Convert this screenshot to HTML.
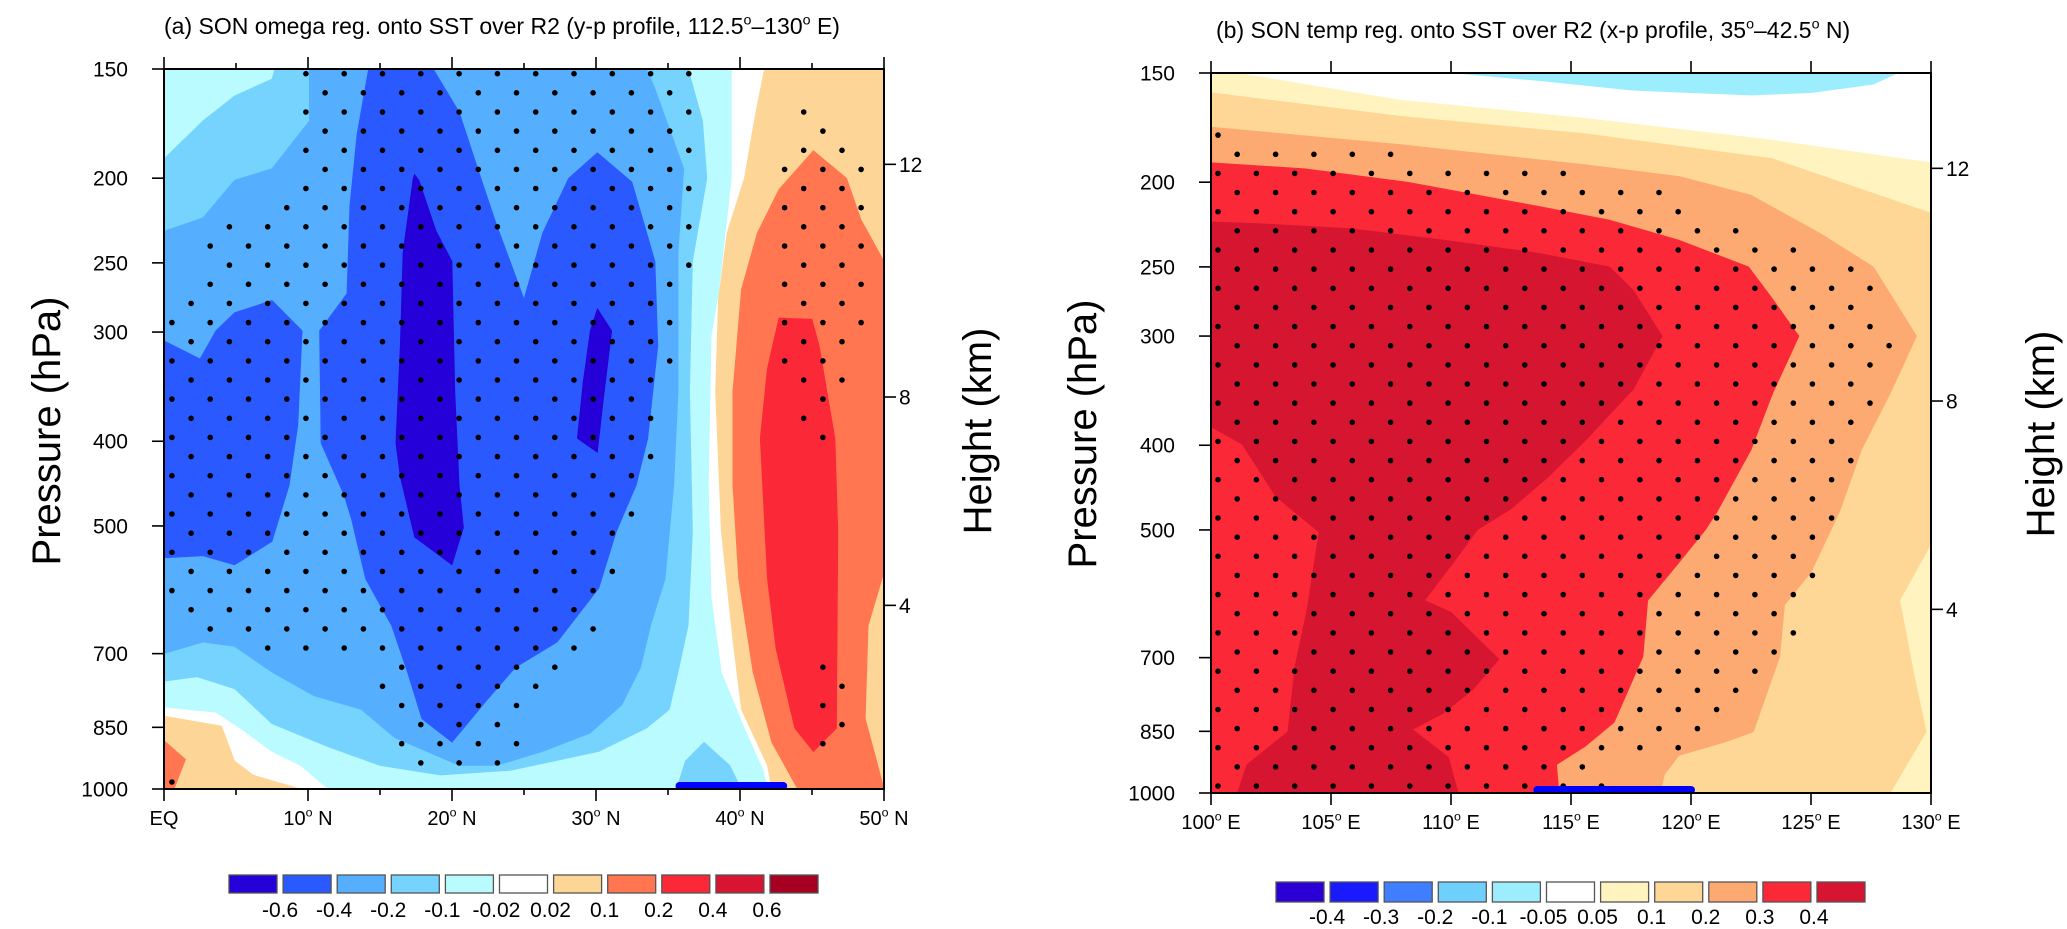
<!DOCTYPE html>
<html><head><meta charset="utf-8"><style>
html,body{margin:0;padding:0;background:#fff;}
svg{display:block;font-family:"Liberation Sans",Arial,sans-serif;}
</style></head><body>
<svg id="fig" width="2067" height="929" viewBox="0 0 2067 929" xmlns="http://www.w3.org/2000/svg">
<g id="panelA"></g>
<g id="panelB"></g>
</svg>
<script>
// ---------- Panel (a) data: omega regression contours [lat, pressure hPa] ----------
const aCyan=[[0,150],[39.4,150],[39.4,200],[38.5,271],[38.0,303],[37.8,449],[38.0,604],[38.7,735],[40.3,852],[41.6,952],[41.9,1000],[11.4,1000],[9.5,940],[7.5,906],[5.3,852],[3.6,817],[0,806]];
const aOrangeBL=[[0,825],[4.0,847],[4.9,929],[6.2,964],[9.5,1000],[0,1000]];
const aCoralBL=[[0,880],[1.5,925],[0.7,1000],[0,1000]];
const aLight=[[7.7,150],[7.5,154],[4.9,161],[2.7,172],[0,190],[0,753],[2.3,744],[4.9,768],[7.5,842],[11.4,895],[15.0,940],[19.2,964],[24.1,952],[30.2,906],[33.5,852],[35.1,811],[35.7,735],[36.4,650],[36.7,508],[36.5,351],[36.7,249],[37.7,200],[37.4,172],[36.4,150]];
const aLightPatch=[[35.6,1000],[36.2,929],[37.5,884],[39.3,940],[40.1,1000]];
const aMid=[[10.1,150],[10.1,172],[7.5,195],[4.9,201],[2.7,222],[0,230],[0,700],[2.7,679],[4.9,687],[7.5,735],[10.4,782],[13.7,811],[16.0,873],[20.5,940],[23.1,940],[26.3,906],[29.6,863],[31.8,801],[33.1,726],[33.8,650],[34.8,575],[35.4,449],[35.7,351],[35.7,243],[36.1,195],[34.1,158],[33.5,150]];
const aBlue1=[[14.2,150],[18.7,150],[20.5,168],[22.1,202],[23.1,226],[25.0,275],[26.3,231],[28.1,200],[30.1,187],[32.5,202],[34.1,249],[34.3,311],[33.6,397],[32.8,449],[31.4,508],[30.2,589],[27.3,679],[24.4,726],[22.4,792],[20.0,884],[17.9,831],[16.9,735],[15.8,650],[14.0,575],[13.0,490],[12.5,461],[10.9,402],[10.8,299],[12.7,271],[12.9,215],[13.4,178]];
const aBlue2=[[0,307],[2.5,322],[3.6,299],[4.9,285],[7.5,276],[9.6,299],[9.3,383],[8.7,449],[7.8,502],[7.5,521],[4.9,554],[2.7,541],[0,544]];
const aDark1=[[17.4,198],[17.7,201],[18.9,230],[20.0,249],[20.2,351],[20.5,449],[20.8,502],[20.0,554],[17.4,515],[16.4,439],[16.1,402],[16.4,311],[16.6,243],[17.3,200]];
const aDark2=[[30.1,282],[31.1,299],[30.5,360],[30.1,412],[28.7,397],[29.1,343],[29.6,299]];
const aOrangeR=[[41.7,150],[50,150],[50,1000],[42.2,1000],[41.9,940],[40.1,811],[39.5,675],[38.7,508],[38.3,351],[38.5,275],[39.1,231],[40.3,200],[41.1,168]];
const aCoral=[[45.1,186],[47.4,200],[48.4,223],[50,249],[50,565],[48.9,650],[48.7,831],[49.4,917],[50,1000],[44.0,1000],[42.2,884],[40.9,735],[39.9,575],[39.5,449],[39.5,351],[40.1,268],[41.2,231],[42.7,206]];
const aRed=[[42.7,289],[45.0,290],[45.5,311],[46.6,397],[46.8,508],[46.7,852],[45.1,906],[43.8,852],[42.5,691],[41.9,575],[41.4,397],[41.9,330]];
const aSST=[35.8,43.0];
// significance stipple rows: [row, firstCol, lastCol]
const aSig=[[0,7,27],[1,8,26],[2,7,27],[2,33,33],[3,8,26],[3,34,34],[4,7,27],[4,33,35],[5,8,26],[5,32,36],[6,7,27],[6,33,35],[7,6,26],[7,32,36],[8,3,27],[8,33,35],[9,2,26],[9,32,36],[10,3,27],[10,33,35],[11,2,26],[11,32,36],[12,1,25],[12,33,35],[13,0,26],[13,32,36],[14,1,25],[14,33,35],[15,0,26],[15,32,34],[16,1,25],[16,33,35],[17,0,24],[17,34,34],[18,1,25],[18,33,33],[19,0,24],[19,34,34],[20,1,25],[21,0,24],[22,1,23],[23,0,24],[24,1,23],[25,0,22],[26,1,23],[27,0,22],[28,1,21],[29,2,22],[30,5,21],[31,12,20],[31,34,34],[32,11,19],[32,35,35],[33,12,18],[33,34,34],[34,13,17],[34,35,35],[35,12,18],[35,34,34],[36,13,17],[37,0,0]];
const aLevels=["-0.6","-0.4","-0.2","-0.1","-0.02","0.02","0.1","0.2","0.4","0.6"];
const aColors=["#2600d8","#2a5aff","#56aefe","#75d3fe","#b9fbfe","#ffffff","#fdd697","#ff7650","#fb2837","#d71432","#a50021"];
const aXTicks=[0,10,20,30,40,50];
const aXLabels=["EQ","10","20","30","40","50"];

// ---------- Panel (b) data: temperature regression contours [lon, pressure hPa] ----------
const bCyan=[[110.1,150],[113.6,153],[117.6,157],[122.5,159],[125.0,158],[127.6,154.5],[128.6,150]];
const bYellow=[[100,150],[101.1,150],[107.8,161],[115.6,169],[123.4,179],[130,190],[130,1000],[100,1000]];
const bOrange=[[100,158],[107.8,168],[115.6,176],[123.4,188],[130,217],[130,519],[128.7,602],[129.3,734],[129.8,851],[128.3,1000],[100,1000]];
const bPeach=[[100,173],[107.8,181],[115.6,191],[119.5,197],[122.5,207],[125.4,229],[127.6,250],[129.4,300],[128.3,349],[127.1,405],[126.2,476],[125.0,559],[123.9,609],[123.7,698],[122.6,851],[121.5,873],[119.5,906],[118.9,952],[118.7,1000],[100,1000]];
const bRed=[[100,190],[103.9,193],[108.2,200],[113.6,213],[116.6,221],[119.5,233],[122.4,250],[123.4,272],[124.5,300],[123.4,349],[122.5,405],[121.1,476],[120.6,500],[119.5,545],[118.2,602],[118.0,698],[116.8,830],[115.6,884],[114.4,928],[114.5,1000],[100,1000]];
const bCrimson=[[100,222],[101.9,223],[105.8,226],[109.7,233],[113.6,241],[116.6,250],[117.6,266],[118.8,300],[117.6,345],[115.6,395],[114.0,436],[112.5,473],[111.1,500],[110.1,545],[108.9,602],[110.0,621],[112.0,703],[110.9,762],[109.7,810],[108.4,846],[109.9,911],[110.3,1000],[101.1,1000],[101.5,928],[103.2,851],[103.5,716],[104.0,617],[104.5,503],[102.7,458],[101.3,399],[100,381]];
const bSST=[113.6,120.0];
const bSig=[[3,0,0],[4,1,9],[5,0,18],[6,1,23],[7,0,24],[8,1,27],[9,0,30],[10,1,33],[11,0,34],[12,1,33],[13,0,34],[14,1,35],[15,0,34],[16,1,33],[17,0,34],[18,1,33],[19,0,32],[20,1,33],[21,0,32],[22,1,31],[23,0,32],[24,1,31],[25,0,30],[26,1,31],[27,0,30],[28,1,29],[29,0,30],[30,1,29],[31,0,28],[32,1,27],[33,0,26],[34,1,25],[35,0,24],[36,1,19],[37,0,20]];
const bLevels=["-0.4","-0.3","-0.2","-0.1","-0.05","0.05","0.1","0.2","0.3","0.4"];
const bColors=["#2a00d6","#1a1aff","#3f7fff","#6fd0fe","#9ceeff","#ffffff","#fff4c0","#fed796","#fdaa72","#fb2837","#d61631"];
const bXTicks=[100,105,110,115,120,125,130];

const pTicks=[150,200,250,300,400,500,700,850,1000];
const hTicks=[12,8,4];

const NS="http://www.w3.org/2000/svg";
function mk(tag,attrs,parent){const e=document.createElementNS(NS,tag);for(const k in attrs)e.setAttribute(k,attrs[k]);if(parent)parent.appendChild(e);return e;}
function isaP(km){return 1013.25*Math.pow(1-2.25577e-5*km*1000,5.2559);}

function makeAxes(x0,y0,W,xmin,xmax){
  const L=Math.log(1000/150);
  return {x:v=>x0+(v-xmin)/(xmax-xmin)*W, y:p=>y0+Math.log(p/150)/L*W, yFrac:f=>y0+f*W, x0:x0,y0:y0,W:W};
}

function poly(g,pts,ax,color,name){
  const d=pts.map((q,i)=>(i?'L':'M')+ax.x(q[0]).toFixed(1)+','+ax.y(q[1]).toFixed(1)).join('')+'Z';
  const e=mk('path',{d:d,fill:color,stroke:color,'stroke-width':0.6},g);
  
  
}

function stipple(g,sig,ax,u0,du){
  const dg=mk('g',{},g);
  
  
  sig.forEach(s=>{
    const r=s[0];const cy=ax.yFrac(0.0065+0.02659*r);
    for(let j=s[1];j<=s[2];j++){
      if((j+r)%2!==1) continue;
      const cx=ax.x0+(u0+du*j)*ax.W;
      const c=mk('circle',{cx:cx.toFixed(1),cy:cy.toFixed(1),r:2.8,fill:'#000'},dg);
      
      
    }
  });
}

function text(g,x,y,str,size,anchor,name,extra){
  const t=mk('text',Object.assign({x:x,y:y,'font-size':size,'text-anchor':anchor||'start',fill:'#000'},extra||{}),g);
  t.textContent=str;
  
  
  return t;
}
function degText(g,x,y,parts,size,anchor,name){
  const t=mk('text',{x:x,y:y,'font-size':size,'text-anchor':anchor,fill:'#000'},g);
  parts.forEach(p=>{
    const s=mk('tspan',p[1]?{'font-size':size*0.62,dy:-size*0.42}:{dy:p[2]?size*0.42:0},t);
    s.textContent=p[0];
  });
  
  
  return t;
}

function axesFrame(g,ax,xticks,xlab,minor){
  const x0=ax.x0,y0=ax.y0,W=ax.W;
  const fr=mk('rect',{x:x0,y:y0,width:W,height:W,fill:'none',stroke:'#000','stroke-width':2},g);
  
  
  const tg=mk('g',{stroke:'#000','stroke-width':1.6},g);
  
  
  xticks.forEach(v=>{const X=ax.x(v);mk('line',{x1:X,y1:y0+W,x2:X,y2:y0+W+12},tg);mk('line',{x1:X,y1:y0,x2:X,y2:y0-12},tg);});
  minor.forEach(v=>{const X=ax.x(v);mk('line',{x1:X,y1:y0+W,x2:X,y2:y0+W+6},tg);mk('line',{x1:X,y1:y0,x2:X,y2:y0-6},tg);});
  pTicks.forEach(p=>{const Y=ax.y(p);mk('line',{x1:x0,y1:Y,x2:x0-12,y2:Y},tg);
    text(g,x0-36,Y+7.5,String(p),21,'end','pressure-tick-label');});
  hTicks.forEach(h=>{const Y=ax.y(isaP(h));mk('line',{x1:x0+W,y1:Y,x2:x0+W+12,y2:Y},tg);
    text(g,x0+W+15,Y+7.5,String(h),21,'start','height-tick-label');});
  xticks.forEach((v,i)=>{xlab(g,ax.x(v),y0+W+36,v,i);});
}

function colorbar(g,x,y,w,h,pitch,colors,levels,labY){
  const cg=mk('g',{},g);
  
  
  colors.forEach((c,i)=>{const r=mk('rect',{x:x+i*pitch,y:y,width:w,height:h,fill:c,stroke:'#555','stroke-width':1.3},cg);
    
    });
  levels.forEach((l,i)=>{text(cg,x+(i+1)*pitch-(pitch-w)/2,labY,l,21,'middle','colorbar-label');});
}

// ---------- Panel A ----------
(function(){
  const g=document.getElementById('panelA');
  const ax=makeAxes(164,69,720,0,50);
  mk('rect',{x:164,y:69,width:720,height:720,fill:'#fff'},g);
  poly(g,aCyan,ax,aColors[4],'contour-neg-002');
  poly(g,aOrangeBL,ax,aColors[6],'contour-pos-002-sw');
  poly(g,aCoralBL,ax,aColors[7],'contour-pos-01-sw');
  poly(g,aLight,ax,aColors[3],'contour-neg-01');
  poly(g,aLightPatch,ax,aColors[3],'contour-neg-01-patch');
  poly(g,aMid,ax,aColors[2],'contour-neg-02');
  poly(g,aBlue1,ax,aColors[1],'contour-neg-04-main');
  poly(g,aBlue2,ax,aColors[1],'contour-neg-04-south');
  poly(g,aDark1,ax,aColors[0],'contour-neg-06-main');
  poly(g,aDark2,ax,aColors[0],'contour-neg-06-north');
  poly(g,aOrangeR,ax,aColors[6],'contour-pos-002');
  poly(g,aCoral,ax,aColors[7],'contour-pos-01');
  poly(g,aRed,ax,aColors[8],'contour-pos-02');
  stipple(g,aSig,ax,0.01102,0.02659);
  const sb=mk('line',{x1:ax.x(aSST[0]),y1:786,x2:ax.x(aSST[1]),y2:786,stroke:'#0000ff','stroke-width':8,'stroke-linecap':'round'},g);
  
  
  axesFrame(g,ax,aXTicks,function(gg,X,Y,v,i){
    if(i===0){text(gg,X,Y,'EQ',20,'middle','x-tick-label');return;}
    degText(gg,X,Y,[[aXLabels[i],0],['o',1],[' N',0,1]],20,'middle','x-tick-label');
  },[5,15,25,35,45]);
  degText(g,164,34,[['(a) SON omega reg. onto SST over R2 (y-p profile, 112.5',0],['o',1],['\u2013130',0,1],['o',1],[' E)',0,1]],23,'start','panel-a-title');
  text(g,0,0,'Pressure (hPa)',40,'middle','y-axis-title',{transform:'translate(60,431) rotate(-90)'});
  text(g,0,0,'Height (km)',40,'middle','right-axis-title',{transform:'translate(991,431) rotate(-90)'});
  colorbar(g,229,875,48,18,54.1,aColors,aLevels,917);
})();

// ---------- Panel B ----------
(function(){
  const g=document.getElementById('panelB');
  const ax=makeAxes(1211,73,720,100,130);
  mk('rect',{x:1211,y:73,width:720,height:720,fill:'#fff'},g);
  poly(g,bYellow,ax,bColors[6],'contour-pos-005');
  poly(g,bCyan,ax,bColors[4],'contour-neg-005');
  poly(g,bOrange,ax,bColors[7],'contour-pos-01');
  poly(g,bPeach,ax,bColors[8],'contour-pos-02');
  poly(g,bRed,ax,bColors[9],'contour-pos-03');
  poly(g,bCrimson,ax,bColors[10],'contour-pos-04');
  stipple(g,bSig,ax,0.00979,0.02663);
  const sb=mk('line',{x1:ax.x(bSST[0]),y1:790,x2:ax.x(bSST[1]),y2:790,stroke:'#0000ff','stroke-width':8,'stroke-linecap':'round'},g);
  
  
  axesFrame(g,ax,bXTicks,function(gg,X,Y,v,i){
    degText(gg,X,Y,[[String(v),0],['o',1],[' E',0,1]],20,'middle','x-tick-label');
  },[]);
  degText(g,1216,38,[['(b) SON temp reg. onto SST over R2 (x-p profile, 35',0],['o',1],['\u201342.5',0,1],['o',1],[' N)',0,1]],23,'start','panel-b-title');
  text(g,0,0,'Pressure (hPa)',40,'middle','y-axis-title',{transform:'translate(1096,434) rotate(-90)'});
  text(g,0,0,'Height (km)',40,'middle','right-axis-title',{transform:'translate(2054,434) rotate(-90)'});
  colorbar(g,1276,882,48,20,54.1,bColors,bLevels,924);
})();
</script>
</body></html>
